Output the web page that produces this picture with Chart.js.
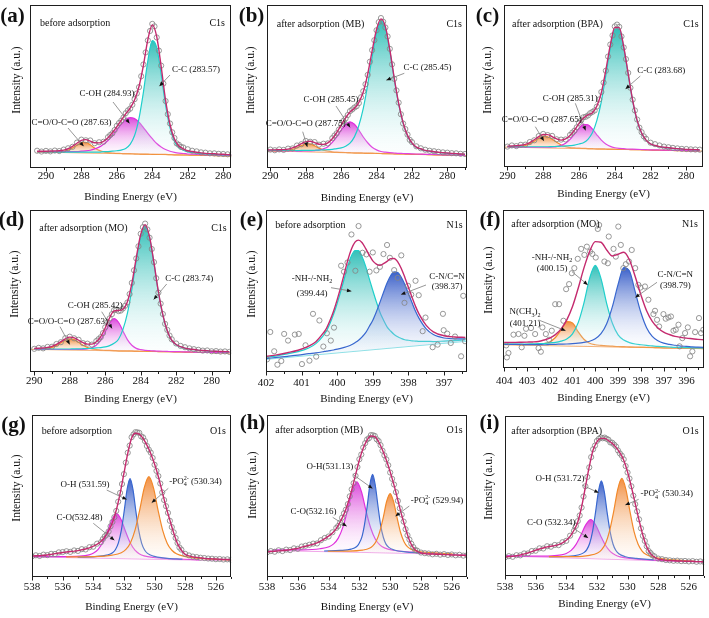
<!DOCTYPE html>
<html><head><meta charset="utf-8"><title>XPS spectra</title>
<script src="https://cdn.jsdelivr.net/npm/chart.js@4.4.1/dist/chart.umd.min.js"></script>
<style>
html,body{margin:0;padding:0;background:#fff;}
#wrap{position:relative;width:709px;height:618px;overflow:hidden;background:#fff;}
#wrap canvas{position:absolute;display:block;}
</style></head><body><div id="wrap"></div>
<script>
// ---------------- tick values ----------------
const C1S_MAJOR = [290,288,286,284,282,280];
const C1S_MINOR = [291,289,287,285,283,281,279];
const N1S_E_MAJOR = [402,401,400,399,398,397];
const N1S_E_MINOR = [401.5,400.5,399.5,398.5,397.5,396.5];
const N1S_F_MAJOR = [404,403,402,401,400,399,398,397,396];
const N1S_F_MINOR = [403.5,402.5,401.5,400.5,399.5,398.5,397.5,396.5,395.5];
const O1S_MAJOR = [538,536,534,532,530,528,526];
const O1S_MINOR = [537,535,533,531,529,527,525];

// extra raw-data energies on the steep flanks (half-step points)
const C1S_MID_E = [286.375,286.125,285.875,285.625,285.375,285.125,284.875,284.625,284.375,284.125,283.875,283.625,283.375,283.125,282.875,282.625,282.375];
const B_MID_E = [286.375,286.125,285.875,285.625,285.375,285.125,284.875,284.625,284.375,284.125,283.875,283.625,283.375,283.125,282.875,282.625,282.375,282.125];
const O1S_MID_E = [533.375,533.125,532.875,532.625,532.375,532.125,531.875,531.625,531.375,531.125,530.875,530.625,530.375,530.125,529.875,529.625,529.375,529.125,528.875,528.625,528.375];

// ---------------- (a) C1s before adsorption ----------------
const A_ENERGY = [290.5,290.25,290,289.75,289.5,289.25,289,288.75,288.5,288.25,288,287.75,287.5,287.25,287,286.75,286.5,286.25,286,285.75,285.5,285.25,285,284.75,284.5,284.25,284,283.75,283.5,283.25,283,282.75,282.5,282.25,282,281.75,281.5,281.25,281,280.75,280.5,280.25,280,279.75,279.5];
const A_RAW = [10.6,10.1,10.5,10.2,10.7,10.4,11.3,12.1,13.0,15.6,17.4,17.0,16.9,15.2,15.8,16.1,18.9,21.3,25.9,29.0,33.6,36.4,42.2,49.6,63.5,78.3,88.4,80.1,62.8,41.1,27.3,18.4,14.2,12.6,11.5,10.6,10.2,9.6,9.4,9.0,9.0,8.7,8.6,8.4,8.3];
const A_RAW_MID = [20.2,23.3,27.6,31.0,35.3,38.8,45.7,56.3,70.9,84.1,86.9,72.0,51.8,33.0,21.9,15.1,12.9];
const A_FIT = [10.3,10.3,10.3,10.4,10.5,10.6,11.0,11.8,13.3,15.2,17.0,17.4,16.5,15.5,15.4,16.4,18.5,21.7,25.4,29.3,33.2,36.8,41.7,50.0,63.0,78.8,87.8,80.6,62.3,41.6,26.7,17.8,13.5,11.8,10.6,10.1,9.7,9.3,9.0,8.8,8.7,8.5,8.4,8.2,8.1];
const A_CO = [9.9,9.9,9.8,9.8,9.8,9.9,10.2,10.9,12.3,14.0,15.6,15.7,14.2,12.3,10.8,9.9,9.4,9.2,9.0,8.9,8.8,8.8,8.7,8.6,8.5,8.5,8.4,8.4,8.3,8.3,8.2,8.1,8.1,8.0,8.0,7.9,7.9,7.8,7.8,7.7,7.6,7.6,7.5,7.5,7.4];
const A_COH = [10.1,10.0,10.0,10.0,10.0,10.0,10.0,10.0,10.0,10.1,10.3,10.5,10.9,11.7,12.8,14.6,16.9,20.0,23.5,26.9,29.8,30.9,30.3,28.1,24.8,21.3,18.0,15.0,12.9,11.3,10.3,9.6,9.1,8.9,8.6,8.5,8.4,8.2,8.1,8.0,8.0,7.9,7.8,7.7,7.7];
const A_CC = [10.0,10.0,9.9,9.9,9.8,9.8,9.8,9.8,9.7,9.7,9.7,9.7,9.8,9.8,9.8,10.0,10.1,10.3,10.6,11.0,12.0,14.5,19.9,30.5,46.6,65.9,78.2,73.9,57.7,38.5,24.6,16.3,12.5,10.9,9.9,9.5,9.1,8.9,8.6,8.5,8.3,8.2,8.1,8.0,7.9];
const A_BASE_E = [290.5, 279.5];
const A_BASE_I = [9.8, 7.4];

// ---------------- (b) C1s after MB ----------------
const B_ENERGY = [290.25,290,289.75,289.5,289.25,289,288.75,288.5,288.25,288,287.75,287.5,287.25,287,286.75,286.5,286.25,286,285.75,285.5,285.25,285,284.75,284.5,284.25,284,283.75,283.5,283.25,283,282.75,282.5,282.25,282,281.75,281.5,281.25,281,280.75,280.5,280.25,280,279.75,279.5,279.25,279];
const B_RAW = [10.7,11.3,10.9,11.4,11.1,11.9,12.0,13.8,14.6,16.6,16.1,15.9,14.3,14.9,15.1,18.3,21.3,26.8,30.4,34.9,37.1,39.8,47.1,57.1,72.3,84.5,92.0,86.2,73.1,54.7,40.1,27.3,20.5,15.9,13.3,12.1,11.2,10.6,10.3,9.9,9.6,9.4,9.1,9.0,8.7,8.6];
const B_RAW_MID = [19.9,23.6,28.9,32.5,35.9,37.9,43.4,51.4,65.2,78.4,89.5,89.7,80.7,63.6,47.6,33.0,23.9,17.3];
const B_FIT = [11.1,11.1,11.1,11.2,11.3,11.6,12.3,13.4,14.9,16.2,16.4,15.6,14.6,14.5,15.4,17.9,21.7,26.3,30.8,34.4,36.6,40.3,46.6,57.6,71.8,85.0,91.5,86.7,72.6,55.2,39.6,27.8,20.0,15.4,12.8,11.8,10.8,10.4,10.0,9.7,9.4,9.2,9.0,8.8,8.6,8.5];
const B_CO = [10.6,10.6,10.5,10.5,10.6,10.8,11.4,12.4,13.7,14.9,14.8,13.6,12.2,11.0,10.3,9.9,9.7,9.6,9.5,9.4,9.3,9.3,9.2,9.1,9.1,9.0,8.9,8.8,8.8,8.7,8.6,8.6,8.5,8.4,8.4,8.3,8.3,8.2,8.1,8.1,8.0,7.9,7.9,7.8,7.7,7.7];
const B_COH = [10.7,10.6,10.6,10.5,10.5,10.5,10.5,10.4,10.4,10.5,10.5,10.7,11.0,11.8,13.1,15.7,19.1,23.2,26.7,28.3,26.8,23.3,19.0,15.5,12.7,11.1,10.1,9.7,9.4,9.2,9.0,8.9,8.8,8.7,8.6,8.5,8.4,8.4,8.3,8.2,8.1,8.1,8.0,7.9,7.8,7.8];
const B_CC = [10.9,10.9,10.8,10.8,10.8,10.8,10.8,10.7,10.8,10.8,10.8,10.9,11.0,11.1,11.3,11.4,11.9,12.3,13.4,15.3,19.1,26.1,36.6,51.2,68.1,82.7,90.3,85.8,71.9,54.7,39.2,27.5,19.7,15.1,12.6,11.6,10.6,10.2,9.8,9.5,9.2,9.0,8.8,8.6,8.5,8.4];
const B_BASE_E = [290.25, 278.9];
const B_BASE_I = [10.5, 7.6];

// ---------------- (c) C1s after BPA ----------------
const C_ENERGY = [290,289.75,289.5,289.25,289,288.75,288.5,288.25,288,287.75,287.5,287.25,287,286.75,286.5,286.25,286,285.75,285.5,285.25,285,284.75,284.5,284.25,284,283.75,283.5,283.25,283,282.75,282.5,282.25,282,281.75,281.5,281.25,281,280.75,280.5,280.25,280,279.75,279.5,279.25];
const C_RAW = [12.6,13.3,12.9,13.7,13.8,15.4,16.5,19.1,20.4,19.7,19.2,17.1,16.9,17.0,19.8,22.4,27.3,30.7,31.8,34.0,37.3,46.3,59.4,75.6,86.8,86.5,73.8,58.1,41.6,29.3,21.5,17.4,15.0,14.1,13.3,12.6,12.2,11.8,11.5,11.2,11.1,10.9,10.8,10.7];
const C_RAW_MID = [21.2,24.5,28.9,31.0,33.2,34.9,41.7,52.1,68.2,81.2,87.9,80.6,66.6,48.9,34.9,24.3,18.9];
const C_FIT = [12.9,13.0,13.1,13.4,14.0,15.1,16.8,18.7,20.1,20.0,18.8,17.4,16.6,17.3,19.4,22.8,26.9,30.2,32.2,33.5,37.7,45.9,59.8,75.2,86.2,86.0,74.2,57.6,41.1,28.8,21.0,16.6,14.3,13.3,12.6,12.2,11.9,11.6,11.3,11.1,10.9,10.8,10.7,10.6];
const C_CO = [12.5,12.5,12.5,12.7,13.3,14.3,15.9,17.8,19.0,18.7,17.2,15.3,13.6,12.6,12.0,11.8,11.6,11.5,11.4,11.3,11.2,11.2,11.1,11.0,11.0,10.9,10.8,10.8,10.7,10.7,10.6,10.5,10.5,10.4,10.4,10.3,10.3,10.2,10.1,10.1,10.0,10.0,9.9,9.9];
const C_COH = [12.4,12.3,12.3,12.3,12.2,12.2,12.2,12.2,12.2,12.2,12.4,12.6,13.4,14.7,17.1,20.3,23.9,26.3,26.1,23.5,19.9,16.6,14.2,12.7,11.9,11.5,11.3,11.1,11.0,10.9,10.8,10.7,10.6,10.6,10.5,10.4,10.4,10.3,10.2,10.2,10.1,10.0,10.0,9.9];
const C_CC = [12.6,12.6,12.5,12.5,12.5,12.5,12.5,12.5,12.5,12.5,12.6,12.7,12.8,13.0,13.2,13.5,14.2,15.0,17.1,21.1,28.8,40.4,56.6,73.5,85.2,85.3,73.7,57.2,40.8,28.5,20.8,16.4,14.2,13.1,12.4,12.0,11.7,11.4,11.2,11.0,10.8,10.7,10.6,10.5];
const C_BASE_E = [290.2, 279.0];
const C_BASE_I = [12.3, 9.8];

// ---------------- (d) C1s after MO ----------------
const D_ENERGY = [290,289.75,289.5,289.25,289,288.75,288.5,288.25,288,287.75,287.5,287.25,287,286.75,286.5,286.25,286,285.75,285.5,285.25,285,284.75,284.5,284.25,284,283.75,283.5,283.25,283,282.75,282.5,282.25,282,281.75,281.5,281.25,281,280.75,280.5,280.25,280,279.75,279.5,279.25,279];
const D_RAW = [14.3,14.9,14.6,15.5,15.6,17.3,18.4,20.9,21.8,20.8,19.9,17.8,17.5,16.9,19.1,21.5,27.6,33.1,38.2,37.6,39.2,42.9,55.0,70.1,85.3,91.6,82.9,67.8,49.0,35.8,26.0,20.2,17.6,16.1,15.3,14.6,14.1,13.7,13.2,13.3,12.8,12.9,12.6,12.7,12.4];
const D_RAW_MID = [20.3,24.0,30.8,35.7,38.4,37.9,40.9,48.1,62.8,77.6,89.4,88.0,75.9,57.9,42.2,29.7,22.5];
const D_FIT = [14.6,14.7,14.8,15.2,15.8,17.0,18.7,20.5,21.5,21.1,19.6,18.1,17.2,17.2,18.7,21.9,27.2,33.5,37.7,38.0,38.7,43.3,54.5,70.5,84.8,91.0,83.4,67.3,49.4,35.3,25.5,19.6,17.0,15.6,14.7,14.2,13.9,13.5,13.3,13.1,12.9,12.8,12.7,12.6,12.5];
const D_CO = [14.2,14.2,14.3,14.6,15.2,16.3,18.0,19.6,20.5,20.0,18.3,16.5,15.1,14.2,13.8,13.5,13.4,13.3,13.2,13.1,13.1,13.0,13.0,12.9,12.8,12.8,12.7,12.7,12.6,12.6,12.5,12.5,12.4,12.4,12.3,12.3,12.2,12.2,12.1,12.1,12.0,12.0,11.9,11.9,11.8];
const D_COH = [14.1,14.0,14.0,14.0,13.9,13.9,13.9,13.9,13.9,13.9,14.0,14.0,14.3,15.0,16.6,19.7,24.7,30.1,33.0,30.7,25.3,20.0,16.5,14.6,13.8,13.4,13.2,13.0,12.9,12.8,12.7,12.6,12.6,12.5,12.4,12.4,12.3,12.2,12.2,12.1,12.1,12.0,12.0,11.9,11.9];
const D_CC = [14.3,14.3,14.3,14.2,14.2,14.2,14.2,14.2,14.2,14.3,14.3,14.4,14.5,14.6,14.9,15.1,15.5,16.3,17.7,20.2,26.3,36.2,50.9,68.7,83.8,90.3,82.9,66.9,49.1,35.0,25.3,19.4,16.8,15.4,14.6,14.1,13.8,13.4,13.2,13.0,12.8,12.7,12.6,12.5,12.4];
const D_BASE_E = [290.2, 278.9];
const D_BASE_I = [14.0, 11.75];

// ---------------- (e) N1s before adsorption ----------------
const E_ENERGY = [402,401.7,401.4,401.1,400.8,400.6,400.4,400.3,400.2,400.1,400.0,399.9,399.8,399.7,399.6,399.5,399.4,399.3,399.2,399.1,399.0,398.9,398.8,398.7,398.6,398.5,398.4,398.3,398.2,398.1,398.0,397.9,397.8,397.7,397.5,397.3,397.0,396.7,396.4];
const E_FIT = [9.6,10.6,11.9,13.4,15.9,18.7,23.8,27.0,31.9,37.7,44.7,52.4,60.7,69.2,75.9,80.2,81.4,79.8,76.2,72.2,68.6,66.6,65.8,66.9,68.3,70.0,70.1,68.0,63.9,58.4,52.3,46.2,40.5,35.7,28.8,24.8,22.4,21.6,21.4];
const E_NH = [9.1,10.0,11.2,12.6,14.8,17.5,22.2,25.3,30.1,35.7,42.4,49.8,57.7,65.7,71.7,75.0,74.9,71.2,65.2,57.6,50.3,43.3,36.9,32.1,27.9,25.3,23.2,21.7,20.7,19.9,19.6,19.2,19.1,18.9,18.9,18.8,19.1,19.4,19.8];
const E_CN = [8.3,9.0,9.7,10.4,11.3,11.8,12.5,12.9,13.2,13.6,14.1,14.6,15.2,15.9,16.8,18.1,19.6,21.7,24.3,28.1,32.0,37.2,43.0,49.1,54.9,59.4,61.8,61.4,58.5,54.0,48.4,42.9,37.5,33.1,26.6,23.1,21.0,20.5,20.5];
const E_BASE_E = [402, 396.35];
const E_BASE_I = [7.8, 19.0];
const E_RAW_E = [401.97,401.88,401.77,401.68,401.57,401.49,401.38,401.19,401.08,400.99,400.89,400.78,400.68,400.59,400.50,400.39,400.29,400.18,400.09,399.89,399.81,399.71,399.60,399.49,399.40,399.29,399.18,399.09,399.0,398.90,398.80,398.70,398.60,398.52,398.40,398.30,398.20,398.11,398.01,397.92,397.80,397.71,397.60,397.52,397.32,397.18,397.03,397.01,396.91,396.81,396.69,396.46,396.52,396.41];
const E_RAW_I = [7.8,24.7,12.8,4.5,6.8,23.5,19.4,23.1,23.5,4.9,16.5,7.0,35.9,9.5,31.8,15.7,23.9,19.4,27.4,65.6,61.9,67.6,84.9,62.5,90.1,73.6,72.6,61.9,73.8,62.7,64.9,72.8,78.4,70.5,62.9,58.1,72.0,42.7,53.2,47.8,56.3,47.4,25.2,33.6,15.3,16.9,35.9,25.8,23.7,17.9,21.9,47.0,9.7,19.0];

// ---------------- (f) N1s after MO ----------------
const F_ENERGY = [404,403.75,403.5,403.25,403,402.75,402.5,402.25,402,401.75,401.5,401.25,401,400.75,400.5,400.25,400,399.75,399.5,399.25,399,398.75,398.5,398.25,398,397.75,397.5,397.25,397,396.75,396.5,396.25,396,395.75,395.5,395.25];
const F_FIT = [16.2,16.2,16.2,16.3,16.4,16.5,16.8,17.7,18.9,21.1,24.8,30.5,38.9,50.5,63.2,73.7,80.0,79.6,74.7,70.9,72.0,73.3,68.4,57.9,46.3,36.2,29.5,25.3,22.7,21.2,20.0,19.4,18.9,18.5,18.1,17.9];
const F_NME = [14.9,14.9,14.9,14.8,14.9,14.9,15.1,15.5,16.5,19.3,24.1,29.3,28.5,22.9,18.2,15.7,14.7,14.3,14.0,13.8,13.6,13.5,13.4,13.3,13.2,13.1,13.0,12.9,12.8,12.8,12.7,12.6,12.5,12.5,12.4,12.3];
const F_NH = [15.2,15.1,15.1,15.2,15.2,15.3,15.4,15.5,15.9,16.2,17.0,18.4,21.6,28.7,41.1,56.7,64.9,56.6,40.8,28.3,21.0,17.7,16.1,15.2,14.7,14.3,14.0,13.7,13.5,13.3,13.1,13.0,12.9,12.8,12.7,12.6];
const F_CN = [15.0,15.0,14.9,14.9,14.8,14.8,14.8,14.7,14.9,15.0,15.1,15.2,15.4,15.7,16.2,16.9,18.5,21.7,28.0,38.8,52.9,63.6,61.4,48.3,35.1,25.5,20.0,17.2,15.7,14.9,14.4,13.9,13.7,13.4,13.2,13.0];
const F_BASE_E = [404.05, 395.2];
const F_BASE_I = [14.7, 12.2];
const F_RAW_E = [403.91,403.88,403.81,403.59,403.37,403.23,403.11,403.04,402.82,402.64,402.49,402.39,402.32,402.17,402.03,401.91,401.76,401.59,401.40,401.28,401.15,401.03,400.92,400.77,400.62,400.48,400.37,400.23,400.13,399.98,399.89,399.83,399.60,399.45,399.41,399.20,399.10,398.99,398.88,398.77,398.66,398.52,398.40,398.25,398.11,398.02,397.82,397.67,397.45,397.38,397.29,397.20,397.01,396.91,396.79,396.68,396.57,396.47,396.35,396.30,396.18,396.06,395.94,395.84,395.74,395.62,395.45,395.36,395.26];
const F_RAW_I = [14.3,6.7,9.5,21.1,21.5,13.1,20.4,24.8,25.3,21.5,12.6,10.3,25.7,21.5,17.9,23.6,40.4,40.4,29.9,49.9,53.1,60.0,63.2,69.1,75.4,71.6,76.8,73.7,72.2,69.9,88.0,90.5,67.4,66.3,83.2,75.4,70.5,89.5,77.9,63.2,65.7,67.4,74.7,63.2,52.6,50.9,51.6,43.2,34.1,36.2,30.5,26.3,34.1,31.2,32.0,32.6,23.6,24.2,27.4,13.7,18.9,22.1,25.7,7.4,10.5,22.7,31.6,22.1,24.2];

// ---------------- O1s energy grid ----------------
const O_ENERGY = [538,537.75,537.5,537.25,537,536.75,536.5,536.25,536,535.75,535.5,535.25,535,534.75,534.5,534.25,534,533.75,533.5,533.25,533,532.75,532.5,532.25,532,531.75,531.5,531.25,531,530.75,530.5,530.25,530,529.75,529.5,529.25,529,528.75,528.5,528.25,528,527.75,527.5,527.25,527,526.75,526.5,526.25,526,525.75,525.5,525.25,525];

// ---------------- (g) O1s before ----------------
const G_RAW = [12.7,13.4,13.0,13.8,13.5,14.3,14.2,15.2,15.4,15.9,15.5,16.4,16.1,17.2,17.0,18.4,18.7,20.6,21.5,25.1,28.1,34.0,40.8,51.9,63.5,76.7,86.3,89.4,89.0,86.2,80.9,76.8,69.3,62.3,52.2,43.7,34.7,27.6,21.0,16.9,14.3,13.3,12.6,12.3,11.9,11.7,11.4,11.3,11.0,11.1,10.8,10.9,10.6];
const G_RAW_MID = [23.4,26.1,31.3,36.9,46.5,57.4,70.6,81.1,88.0,89.3,86.8,83.9,78.6,73.5,65.5,57.7,47.5,39.6,30.8,24.1,18.2];
const G_FIT = [13.0,13.1,13.2,13.4,13.6,14.0,14.4,14.8,15.1,15.4,15.7,16.0,16.3,16.8,17.3,18.0,19.0,20.2,21.9,24.7,28.5,33.6,41.2,51.5,63.9,76.3,85.6,88.7,88.2,85.6,81.4,76.3,69.7,61.9,52.6,43.3,35.1,27.2,20.6,16.5,14.0,13.0,12.4,12.1,11.8,11.5,11.3,11.2,11.1,11.0,10.9,10.8,10.7];
const G_CO_E = [537.88,536.08,534.88,534.28,533.98,533.68,533.38,533.08,532.78,532.48,532.18,531.88,531.58,531.28,530.98,530.68,530.08,528.88,527.08];
const G_CO_I = [12.6,12.6,12.9,13.7,14.8,17.05,21.4,28.0,35.5,39.2,35.4,27.8,21.0,16.6,14.25,13.05,12.05,11.25,10.6];
const G_OH_E = [535.02,533.88,533.12,532.74,532.55,532.36,532.17,531.98,531.79,531.6,531.41,531.22,531.03,530.84,530.65,530.46,530.08,529.32,528.18];
const G_OH_I = [12.25,12.6,13.5,15.0,17.0,21.1,28.8,40.8,54.2,60.8,54.1,40.6,28.6,20.8,16.65,14.6,12.9,11.7,11.0];
const G_PO_E = [535.77,533.97,532.77,532.17,531.87,531.57,531.27,530.97,530.67,530.37,530.07,529.77,529.47,529.17,528.87,528.57,527.97,526.77,524.97];
const G_PO_I = [12.4,12.6,13.5,15.0,17.0,21.2,29.1,41.3,55.1,61.9,55.0,41.1,28.8,20.75,16.5,14.3,12.6,11.3,10.4];
const G_BASE_E = [538.1, 524.9];
const G_BASE_I = [12.4, 10.0];

// ---------------- (h) O1s after MB ----------------
const H_RAW = [15.2,16.0,15.6,16.5,16.0,16.9,16.6,17.7,17.4,18.8,19.3,19.9,20.6,20.7,22.7,24.1,25.0,27.6,30.3,33.6,39.3,45.0,54.1,62.5,72.7,79.9,84.9,87.6,87.1,83.9,78.0,72.6,64.5,57.1,47.0,38.5,29.5,23.1,18.5,16.3,15.1,14.7,14.5,14.0,14.3,13.8,14.1,13.6,13.9,13.4,13.7,13.2,13.4];
const H_RAW_MID = [31.5,36.6,41.6,49.8,57.9,67.9,75.6,82.6,85.7,87.5,85.0,81.4,75.1,69.0,60.6,52.4,42.4,34.2,25.8,20.5,16.7];
const H_FIT = [15.5,15.7,15.9,16.1,16.3,16.5,16.9,17.3,17.7,18.4,19.0,19.6,20.2,21.0,22.3,23.7,25.2,27.2,29.9,34.0,38.8,45.4,53.6,62.9,72.2,79.4,84.5,87.0,86.6,83.5,78.4,72.2,64.9,56.7,47.4,38.1,29.9,22.7,18.1,15.9,14.8,14.4,14.2,14.2,14.0,14.0,13.8,13.8,13.6,13.6,13.4,13.4,13.2];
const H_CO_E = [537.57,535.77,534.57,533.97,533.67,533.37,533.07,532.77,532.47,532.17,531.87,531.57,531.27,530.97,530.67,530.37,529.77,528.57,526.77];
const H_CO_I = [16.7,16.8,17.45,18.7,20.45,24.0,30.8,41.2,52.9,58.7,52.8,40.95,30.4,23.5,19.85,18.0,16.5,15.3,14.5];
const H_OH_E = [534.29,533.24,532.54,532.19,532.02,531.84,531.67,531.49,531.32,531.14,530.97,530.79,530.62,530.44,530.27,530.09,529.74,529.04,527.99];
const H_OH_I = [16.05,16.4,17.2,18.7,20.7,24.6,32.2,43.8,56.8,63.3,56.8,43.65,32.0,24.4,20.3,18.3,16.7,15.5,14.8];
const H_PO_E = [534.05,532.7,531.8,531.35,531.13,530.9,530.68,530.45,530.23,530.0,529.78,529.55,529.33,529.1,528.88,528.65,528.2,527.3,525.95];
const H_PO_I = [15.9,16.0,16.6,17.7,19.2,22.2,27.9,36.7,46.6,51.5,46.5,36.5,27.6,21.8,18.7,17.2,15.9,15.0,14.3];
const H_BASE_E = [538.1, 524.9];
const H_BASE_I = [16.4, 13.8];

// ---------------- (i) O1s after BPA ----------------
const I_RAW = [11.6,12.4,12.0,13.0,12.9,14.1,14.1,15.6,15.8,17.3,17.2,18.6,18.3,19.4,19.3,21.1,22.0,25.2,28.2,34.3,42.8,56.1,67.9,79.2,84.4,86.6,86.5,85.2,83.3,80.9,76.6,72.9,64.7,56.1,44.9,35.4,25.1,18.6,14.4,12.3,10.9,10.5,10.0,9.8,9.5,9.6,9.3,9.4,9.1,9.3,8.9,9.1,8.7];
const I_RAW_MID = [31.3,37.8,49.7,61.9,74.3,81.5,85.7,86.1,85.8,83.5,82.1,78.5,75.2,68.7,60.9,50.2,40.4,29.8,21.9,15.6,12.9];
const I_FIT = [11.9,12.1,12.3,12.7,13.2,13.8,14.4,15.2,16.1,16.9,17.5,18.2,18.6,19.0,19.6,20.7,22.3,24.8,28.6,33.8,43.2,55.7,68.3,78.7,83.9,86.0,86.0,84.6,82.9,80.4,77.0,72.4,65.1,55.7,45.3,34.9,25.5,18.2,14.0,11.9,10.6,10.2,9.8,9.6,9.6,9.4,9.4,9.2,9.2,9.2,9.0,9.0,8.8];
const I_CO_E = [538.16,536.24,534.96,534.32,534.0,533.68,533.36,533.04,532.72,532.4,532.08,531.76,531.44,531.12,530.8,530.48,529.84,528.56,526.64];
const I_CO_I = [12.75,12.4,12.6,13.2,14.1,16.0,19.8,25.6,32.1,35.3,31.9,25.2,19.2,15.2,13.1,12.0,11.0,10.1,9.3];
const I_OH_E = [535.13,533.99,533.23,532.85,532.66,532.47,532.28,532.09,531.9,531.71,531.52,531.33,531.14,530.95,530.76,530.57,530.19,529.43,528.29];
const I_OH_I = [12.1,12.3,13.1,14.6,16.5,20.5,28.1,39.8,52.9,59.4,52.8,39.5,27.7,20.0,15.9,13.9,12.2,11.0,10.1];
const I_PO_E = [535.14,533.55,532.49,531.96,531.7,531.43,531.17,530.9,530.64,530.37,530.11,529.84,529.58,529.31,529.05,528.78,528.25,527.19,525.6];
const I_PO_I = [12.05,12.1,12.9,14.35,16.35,20.5,28.4,40.55,54.2,61.0,54.1,40.2,27.9,19.85,15.6,13.4,11.6,10.2,9.2];
const I_BASE_E = [538.2, 524.9];
const I_BASE_I = [12.55, 8.6];

// ---------------- styling ----------------
const SERIF = "'Liberation Serif','Times New Roman',Times,serif";
const COL = {
  cyan:    {line:'#1fcfcb', top:'rgba(34,186,178,0.92)', bot:'rgba(228,248,248,0.10)'},
  magenta: {line:'#e030dc', top:'rgba(214,46,214,0.88)', bot:'rgba(250,224,250,0.10)'},
  orange:  {line:'#f2892b', top:'rgba(240,130,44,0.90)', bot:'rgba(252,232,212,0.10)'},
  blue:    {line:'#3867cf', top:'rgba(42,82,196,0.92)',  bot:'rgba(228,234,250,0.10)'}
};
const FIT_COLOR = '#c42a6e';
const BASE_C = '#f4a460', BASE_O = '#f0a4e8', BASE_N = '#86dfe4';

function comp(name, xs, ys, c){ return {name, x:xs, y:ys, c}; }

const PANELS = [
 {cell:[0,0,236,205], area:[30,5,232,168], range:[279.55,290.9], major:C1S_MAJOR, minor:C1S_MINOR, labelY:176, titleY:197, yT:[17,80],
  letter:'(a)', letterPos:[12.5,17], title:'before adsorption', titlePos:[40,23.5], core:'C1s', corePos:[225,23.5],
  base:{x:A_BASE_E,y:A_BASE_I,color:BASE_C},
  comps:[comp('C=O/O-C=O',A_ENERGY,A_CO,COL.orange),comp('C-OH',A_ENERGY,A_COH,COL.magenta),comp('C-C',A_ENERGY,A_CC,COL.cyan)],
  raw:{x:A_ENERGY,y:A_RAW}, rawMid:{x:C1S_MID_E,y:A_RAW_MID}, fit:{x:A_ENERGY,y:A_FIT},
  notes:[{lines:['C-C (283.57)'],cx:196,ys:[69],tail:[170,75],tip:[283.6,50.2]},
         {lines:['C-OH (284.93)'],cx:107,ys:[93],tail:[113,102],tip:[285.28,27.3]},
         {lines:['C=O/O-C=O (287.63)'],cx:71.5,ys:[122],tail:[68,128],tip:[287.87,13.3]}]},
 {cell:[236,0,236,205], area:[31,5,233,168], range:[278.88,290.19], major:C1S_MAJOR, minor:C1S_MINOR, labelY:176, titleY:198, yT:[15,80],
  letter:'(b)', letterPos:[15.5,17], title:'after adsorption (MB)', titlePos:[40.7,24], core:'C1s', corePos:[226,24],
  base:{x:B_BASE_E,y:B_BASE_I,color:BASE_C},
  comps:[comp('C=O/O-C=O',B_ENERGY,B_CO,COL.orange),comp('C-OH',B_ENERGY,B_COH,COL.magenta),comp('C-C',B_ENERGY,B_CC,COL.cyan)],
  raw:{x:B_ENERGY,y:B_RAW}, rawMid:{x:B_MID_E,y:B_RAW_MID}, fit:{x:B_ENERGY,y:B_FIT},
  notes:[{lines:['C-C (285.45)'],cx:191.5,ys:[67.3],tail:[168.3,73.3],tip:[283.45,53.9]},
         {lines:['C-OH (285.45)'],cx:95,ys:[99.3],tail:[100,106],tip:[285.49,24.8]},
         {lines:['C=O/O-C=O (287.75)'],cx:69.7,ys:[122.7],tail:[66.7,131.7],tip:[287.91,12.9]}]},
 {cell:[472,0,237,205], area:[32,5,231,167], range:[279.07,290.19], major:C1S_MAJOR, minor:C1S_MINOR, labelY:176, titleY:194, yT:[16,80],
  letter:'(c)', letterPos:[15.5,17], title:'after adsorption (BPA)', titlePos:[40,24], core:'C1s', corePos:[226.7,24],
  base:{x:C_BASE_E,y:C_BASE_I,color:BASE_C},
  comps:[comp('C=O/O-C=O',C_ENERGY,C_CO,COL.orange),comp('C-OH',C_ENERGY,C_COH,COL.magenta),comp('C-C',C_ENERGY,C_CC,COL.cyan)],
  raw:{x:C_ENERGY,y:C_RAW}, rawMid:{x:C1S_MID_E,y:C_RAW_MID}, fit:{x:C_ENERGY,y:C_FIT},
  notes:[{lines:['C-C (283.68)'],cx:189.2,ys:[70],tail:[168.3,76],tip:[283.4,48.2]},
         {lines:['C-OH (285.31)'],cx:98.3,ys:[97.7],tail:[103.3,103.3],tip:[285.63,22.5]},
         {lines:['C=O/O-C=O (287.65)'],cx:69.7,ys:[119.3],tail:[63.3,126.7],tip:[287.96,16]}]},
 {cell:[0,205,236,205], area:[30,5,232,167], range:[278.9,290.24], major:C1S_MAJOR, minor:C1S_MINOR, labelY:176, titleY:194, yT:[15,79],
  letter:'(d)', letterPos:[11.5,16], title:'after adsorption (MO)', titlePos:[39.3,23.3], core:'C1s', corePos:[226.7,23.3],
  base:{x:D_BASE_E,y:D_BASE_I,color:BASE_C},
  comps:[comp('C=O/O-C=O',D_ENERGY,D_CO,COL.orange),comp('C-OH',D_ENERGY,D_COH,COL.magenta),comp('C-C',D_ENERGY,D_CC,COL.cyan)],
  raw:{x:D_ENERGY,y:D_RAW}, rawMid:{x:C1S_MID_E,y:D_RAW_MID}, fit:{x:D_ENERGY,y:D_FIT},
  notes:[{lines:['C-C (283.74)'],cx:189.2,ys:[72.7],tail:[166.7,79],tip:[283.27,44.7]},
         {lines:['C-OH (285.42)'],cx:95.3,ys:[100],tail:[101.7,106.7],tip:[285.61,26.8]},
         {lines:['C=O/O-C=O (287.63)'],cx:67.8,ys:[116],tail:[60,121.7],tip:[288.0,16.9]}]},
 {cell:[236,205,236,205], area:[30,5,234,167], range:[396.35,402], major:N1S_E_MAJOR, minor:N1S_E_MINOR, labelY:178, titleY:194, yT:[16,79],
  letter:'(e)', letterPos:[15.5,16], title:'before adsorption', titlePos:[39.3,20.7], core:'N1s', corePos:[226.7,20.7],
  base:{x:E_BASE_E,y:E_BASE_I,color:BASE_N},
  comps:[comp('-NH-/-NH2',E_ENERGY,E_NH,COL.cyan),comp('C-N/C=N',E_ENERGY,E_CN,COL.blue)],
  raw:{x:E_RAW_E,y:E_RAW_I}, rawMid:null, fit:{x:E_ENERGY,y:E_FIT},
  notes:[{lines:['-NH-/-NH_{2}','(399.44)'],cx:76,ys:[72.7,88.3],tail:[95,82.7],tip:[399.6,49.9]},
         {lines:['C-N/C=N','(398.37)'],cx:211,ys:[71,81],tail:[190,80],tip:[398.21,47.8]}]},
 {cell:[472,205,237,205], area:[31,5,232,163], range:[395.23,404.05], major:N1S_F_MAJOR, minor:N1S_F_MINOR, labelY:176, titleY:193, yT:[17.3,75],
  letter:'(f)', letterPos:[18,16], title:'after adsorption (MO)', titlePos:[39.3,19], core:'N1s', corePos:[226,19],
  base:{x:F_BASE_E,y:F_BASE_I,color:BASE_C},
  comps:[comp('N(CH3)2',F_ENERGY,F_NME,COL.orange),comp('-NH-/-NH2',F_ENERGY,F_NH,COL.cyan),comp('C-N/C=N',F_ENERGY,F_CN,COL.blue)],
  raw:{x:F_RAW_E,y:F_RAW_I}, rawMid:null, fit:{x:F_ENERGY,y:F_FIT},
  notes:[{lines:['-NH-/-NH_{2}','(400.15)'],cx:80,ys:[51.7,62.7],tail:[100,66.7],tip:[400.33,52.6]},
         {lines:['C-N/C=N','(398.79)'],cx:203.3,ys:[69.3,80],tail:[185,77.3],tip:[398.25,44.6]},
         {lines:['N(CH_{3})_{2}','(401.21)'],cx:53,ys:[106.3,117.8],tail:[66.7,115],tip:[401.3,23.6]}]},
 {cell:[0,410,236,208], area:[32,5,233,167], range:[525,538], major:O1S_MAJOR, minor:O1S_MINOR, labelY:177, titleY:197, yT:[16.7,78],
  letter:'(g)', letterPos:[13.5,16], title:'before adsorption', titlePos:[41.7,21.7], core:'O1s', corePos:[226,21.7],
  base:{x:G_BASE_E,y:G_BASE_I,color:BASE_O},
  comps:[comp('C-O',G_CO_E,G_CO_I,COL.magenta),comp('O-H',G_OH_E,G_OH_I,COL.blue),comp('-PO4',G_PO_E,G_PO_I,COL.orange)],
  raw:{x:O_ENERGY,y:G_RAW}, rawMid:{x:O1S_MID_E,y:G_RAW_MID}, fit:{x:O_ENERGY,y:G_FIT},
  notes:[{lines:['O-H (531.59)'],cx:85,ys:[74],tail:[106.7,80],tip:[531.81,47.8]},
         {lines:['-PO_{4}^{2-} (530.34)'],cx:195.5,ys:[71],tail:[168.3,78.3],tip:[530.19,45.8]},
         {lines:['C-O(532.48)'],cx:79.5,ys:[106.7],tail:[93.3,113.3],tip:[532.62,22.7]}]},
 {cell:[236,410,236,208], area:[31,5,233,167], range:[525,538], major:O1S_MAJOR, minor:O1S_MINOR, labelY:177, titleY:197, yT:[16.7,75],
  letter:'(h)', letterPos:[16.5,14], title:'after adsorption (MB)', titlePos:[39.3,20], core:'O1s', corePos:[226.7,20],
  base:{x:H_BASE_E,y:H_BASE_I,color:BASE_O},
  comps:[comp('C-O',H_CO_E,H_CO_I,COL.magenta),comp('O-H',H_OH_E,H_OH_I,COL.blue),comp('-PO4',H_PO_E,H_PO_I,COL.orange)],
  raw:{x:O_ENERGY,y:H_RAW}, rawMid:{x:O1S_MID_E,y:H_RAW_MID}, fit:{x:O_ENERGY,y:H_FIT},
  notes:[{lines:['O-H(531.13)'],cx:93.8,ys:[56],tail:[116.7,64.3],tip:[531.14,54.6]},
         {lines:['-PO_{4}^{2-} (529.94)'],cx:201,ys:[90],tail:[173.3,96],tip:[529.66,37.5]},
         {lines:['C-O(532.16)'],cx:77.5,ys:[101],tail:[96.7,107.3],tip:[532.82,31.3]}]},
 {cell:[472,410,237,208], area:[33,6,233,166], range:[525,538], major:O1S_MAJOR, minor:O1S_MINOR, labelY:177, titleY:194, yT:[17.3,76],
  letter:'(i)', letterPos:[17.5,14], title:'after adsorption (BPA)', titlePos:[39.3,21], core:'O1s', corePos:[226.7,21],
  base:{x:I_BASE_E,y:I_BASE_I,color:BASE_O},
  comps:[comp('C-O',I_CO_E,I_CO_I,COL.magenta),comp('O-H',I_OH_E,I_OH_I,COL.blue),comp('-PO4',I_PO_E,I_PO_I,COL.orange)],
  raw:{x:O_ENERGY,y:I_RAW}, rawMid:{x:O1S_MID_E,y:I_RAW_MID}, fit:{x:O_ENERGY,y:I_FIT},
  notes:[{lines:['O-H (531.72)'],cx:88,ys:[68.3],tail:[110,75],tip:[531.88,52]},
         {lines:['-PO_{4}^{2-} (530.34)'],cx:194.7,ys:[83.3],tail:[166.7,89.3],tip:[530.15,44.3]},
         {lines:['C-O (532.34)'],cx:79.3,ys:[111.7],tail:[100,117.3],tip:[532.57,23.8]}]}
];

// ---------------- helpers ----------------
function pts(xs, ys){ return xs.map((x,i)=>({x:x, y:ys[i]})); }

function gradient(top, bot){
  return function(ctx){
    const chart = ctx.chart; const area = chart.chartArea;
    if (!area || !chart.scales.y) return top;
    const ds = chart.data.datasets[ctx.datasetIndex];
    let hi = -Infinity, lo = Infinity;
    ds.data.forEach(p => { if (p.y > hi) hi = p.y; if (p.y < lo) lo = p.y; });
    const p0 = chart.scales.y.getPixelForValue(hi), p1 = chart.scales.y.getPixelForValue(lo);
    const g = chart.ctx.createLinearGradient(0, p0, 0, p1 + 0.01);
    g.addColorStop(0, top); g.addColorStop(1, bot);
    return g;
  };
}

function richSegs(str){
  const out = []; let buf = '';
  for (let i = 0; i < str.length; i++){
    const ch = str[i];
    if ((ch === '_' || ch === '^') && str[i+1] === '{'){
      if (buf){ out.push({t:buf, k:0}); buf=''; }
      const j = str.indexOf('}', i);
      out.push({t:str.slice(i+2, j), k: ch === '_' ? 1 : 2});
      i = j;
    } else buf += ch;
  }
  if (buf) out.push({t:buf, k:0});
  return out;
}

function drawRich(ctx, str, cx, cy, size){
  const segs = richSegs(str);
  const small = size * 0.68;
  let x = 0, prevSub = null;
  segs.forEach(s => {
    ctx.font = (s.k ? small : size) + 'px ' + SERIF;
    s.w = ctx.measureText(s.t).width;
    if (s.k === 2 && prevSub){ s.x = prevSub.x; x = Math.max(prevSub.x + prevSub.w, s.x + s.w); prevSub = null; }
    else { s.x = x; x += s.w; prevSub = (s.k === 1) ? s : null; }
  });
  const x0 = cx - x / 2;
  const base = cy + size * 0.33;
  ctx.textAlign = 'left'; ctx.textBaseline = 'alphabetic';
  segs.forEach(s => {
    ctx.font = (s.k ? small : size) + 'px ' + SERIF;
    const dy = s.k === 1 ? size * 0.26 : (s.k === 2 ? -size * 0.40 : 0);
    ctx.fillText(s.t, x0 + s.x, base + dy);
  });
}

function arrow(ctx, x1, y1, x2, y2){
  ctx.strokeStyle = '#7c7c7c'; ctx.lineWidth = 0.8;
  ctx.beginPath(); ctx.moveTo(x1, y1); ctx.lineTo(x2, y2); ctx.stroke();
  const a = Math.atan2(y2 - y1, x2 - x1), L = 4.5, W = 1.9;
  const bx = x2 - L * Math.cos(a), by = y2 - L * Math.sin(a);
  ctx.fillStyle = '#111';
  ctx.beginPath(); ctx.moveTo(x2, y2);
  ctx.lineTo(bx + W * Math.sin(a), by - W * Math.cos(a));
  ctx.lineTo(bx - W * Math.sin(a), by + W * Math.cos(a));
  ctx.closePath(); ctx.fill();
}

const deco = {
  id: 'deco',
  afterDatasetsDraw(chart, args, opts){
    const P = PANELS[opts.idx];
    const ctx = chart.ctx, a = chart.chartArea, xs = chart.scales.x, ys = chart.scales.y;
    const L = Math.round(a.left), T = Math.round(a.top), R = Math.round(a.right), B = Math.round(a.bottom);
    const lo = Math.min(xs.min, xs.max) - 1e-6, hi = Math.max(xs.min, xs.max) + 1e-6;
    ctx.save();
    ctx.strokeStyle = '#1e1e1e'; ctx.lineWidth = 1;
    ctx.strokeRect(L + 0.5, T + 0.5, R - L - 1, B - T - 1);
    ctx.beginPath();
    P.major.forEach(v => { if (v < lo || v > hi) return; const px = Math.round(xs.getPixelForValue(v)) + 0.5; ctx.moveTo(px, B); ctx.lineTo(px, B + 3.5); });
    P.minor.forEach(v => { if (v < lo || v > hi) return; const px = Math.round(xs.getPixelForValue(v)) + 0.5; ctx.moveTo(px, B); ctx.lineTo(px, B + 2); });
    ctx.stroke();
    ctx.fillStyle = '#111';
    ctx.font = '11px ' + SERIF; ctx.textAlign = 'center'; ctx.textBaseline = 'middle';
    P.major.forEach(v => { if (v < lo || v > hi) return; ctx.fillText(String(v), xs.getPixelForValue(v), P.labelY); });
    ctx.font = '11px ' + SERIF;
    ctx.fillText('Binding Energy (eV)', (L + R) / 2, P.titleY);
    ctx.save(); ctx.translate(P.yT[0], P.yT[1]); ctx.rotate(-Math.PI / 2);
    ctx.font = '11.5px ' + SERIF; ctx.fillText('Intensity (a.u.)', 0, 0); ctx.restore();
    ctx.font = 'bold 21px ' + SERIF; ctx.textAlign = 'center'; ctx.textBaseline = 'middle';
    ctx.fillText(P.letter, P.letterPos[0], P.letterPos[1]);
    ctx.font = '10px ' + SERIF; ctx.textAlign = 'left';
    ctx.fillText(P.title, P.titlePos[0], P.titlePos[1]);
    ctx.textAlign = 'right';
    ctx.fillText(P.core, P.corePos[0], P.corePos[1]);
    P.notes.forEach(n => {
      ctx.fillStyle = '#111';
      n.lines.forEach((ln, k) => drawRich(ctx, ln, n.cx, n.ys[k], 9));
      arrow(ctx, n.tail[0], n.tail[1], xs.getPixelForValue(n.tip[0]), ys.getPixelForValue(n.tip[1]));
    });
    ctx.restore();
  }
};

const wrap = document.getElementById('wrap');
PANELS.forEach((P, idx) => {
  const cv = document.createElement('canvas');
  cv.width = P.cell[2]; cv.height = P.cell[3];
  cv.style.left = P.cell[0] + 'px'; cv.style.top = P.cell[1] + 'px';
  cv.style.width = P.cell[2] + 'px'; cv.style.height = P.cell[3] + 'px';
  wrap.appendChild(cv);
  const datasets = [];
  datasets.push({label:'background', data:pts(P.base.x, P.base.y), borderColor:P.base.color, borderWidth:1, pointRadius:0, fill:false, order:50});
  P.comps.forEach((c, k) => datasets.push({
    label:c.name, data:pts(c.x, c.y), borderColor:c.c.line, borderWidth:1.2, pointRadius:0,
    cubicInterpolationMode:'monotone', fill:{target:0}, backgroundColor:gradient(c.c.top, c.c.bot), order:40 - k
  }));
  let rawPts = pts(P.raw.x, P.raw.y);
  if (P.rawMid) rawPts = rawPts.concat(pts(P.rawMid.x, P.rawMid.y));
  datasets.push({label:'raw', data:rawPts, showLine:false, pointRadius:2.6, pointBorderWidth:0.85,
    pointBorderColor:'#858585', pointBackgroundColor:'rgba(255,255,255,0)', borderColor:'#858585', backgroundColor:'rgba(255,255,255,0)', fill:false, order:2});
  datasets.push({label:'fit', data:pts(P.fit.x, P.fit.y), borderColor:FIT_COLOR, borderWidth:1.4, pointRadius:0,
    cubicInterpolationMode:'monotone', fill:false, order:1});
  new Chart(cv, {
    type:'line',
    data:{datasets},
    options:{
      responsive:false, animation:false, devicePixelRatio:1, events:[],
      layout:{padding:{left:P.area[0], top:P.area[1], right:P.cell[2] - P.area[2], bottom:P.cell[3] - P.area[3]}},
      scales:{
        x:{type:'linear', display:false, reverse:true, min:P.range[0], max:P.range[1]},
        y:{type:'linear', display:false, min:0, max:100}
      },
      plugins:{legend:{display:false}, tooltip:{enabled:false}, deco:{idx:idx}}
    },
    plugins:[deco]
  });
});
</script></body></html>
